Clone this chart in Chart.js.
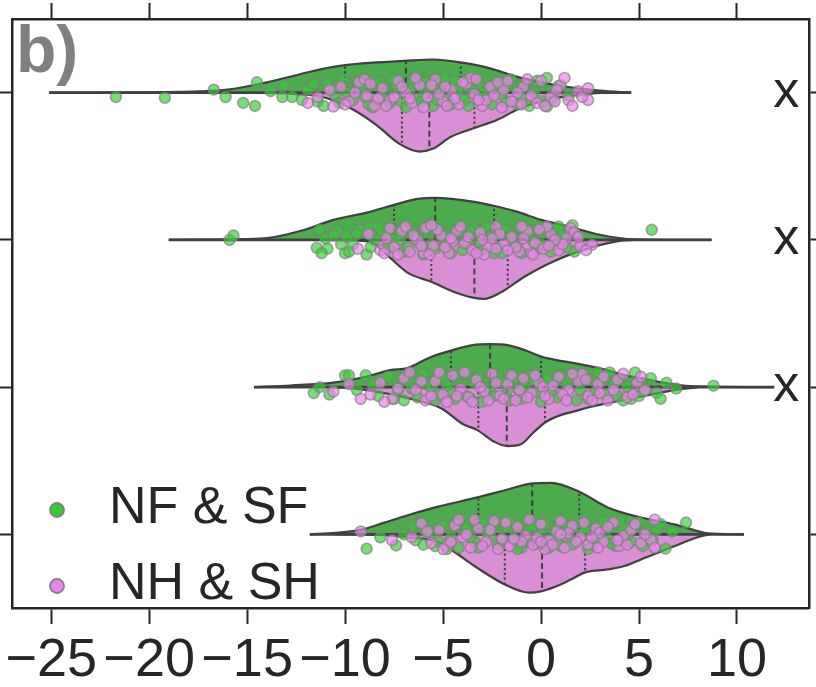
<!DOCTYPE html>
<html>
<head>
<meta charset="utf-8">
<script src="https://cdn.jsdelivr.net/npm/chart.js@4.4.0/dist/chart.umd.min.js"></script>
<style>
  html, body { margin: 0; padding: 0; background: #ffffff; }
  #wrap { width: 816px; height: 687px; position: relative; }
</style>
</head>
<body>
<div id="wrap"><canvas id="c" width="816" height="687"></canvas></div>
<script>
// ---- axis ticks and labels ----
const xTicks = [-25, -20, -15, -10, -5, 0, 5, 10];
const xTickLabels = ['\u221225', '\u221220', '\u221215', '\u221210', '\u22125', '0', '5', '10'];
const rows = [0, 1, 2, 3];
const rowMarks = ['x', 'x', 'x', ''];
const panelTag = 'b)';
const seriesNames = ['NF & SF', 'NH & SH'];

// ---- violin outlines: [value, half-width in row units] ----
const nfShape1 = [[-25.1,0],[-21,0.002],[-17.5,0.008],[-16,0.02],[-14,0.07],[-12.3,0.125],[-10.6,0.175],[-9,0.2],[-7,0.215],[-5.5,0.225],[-4.1,0.205],[-2.6,0.165],[-1.3,0.11],[0,0.07],[1.3,0.04],[3,0.013],[4.6,0]];
const nfShape2 = [[-19,0],[-16,0.004],[-14,0.012],[-12.3,0.06],[-10.6,0.136],[-8.9,0.185],[-7.5,0.238],[-6.2,0.28],[-5.4,0.285],[-3.4,0.258],[-2.3,0.228],[-1.2,0.19],[0,0.136],[1.3,0.095],[3,0.035],[4.75,0.004],[8.7,0]];
const nfShape3 = [[-14.65,0],[-12.8,0.011],[-10.6,0.031],[-8.9,0.072],[-7.7,0.115],[-6.8,0.13],[-5.7,0.2],[-4.6,0.248],[-3.5,0.285],[-2.6,0.292],[-1.7,0.285],[-0.8,0.25],[0,0.208],[0.9,0.18],[1.7,0.163],[3.4,0.115],[4.15,0.085],[5.1,0.061],[6.4,0.027],[7.6,0.007],[11.9,0]];
const nfShape4 = [[-11.8,0],[-10.5,0.01],[-9.1,0.034],[-8,0.08],[-6.8,0.13],[-5.2,0.19],[-3.25,0.251],[-1.7,0.305],[-0.45,0.346],[0.5,0.35],[1.95,0.29],[3.4,0.183],[5.1,0.115],[6.8,0.068],[8.0,0.022],[8.5,0.007],[10.35,0]];

const nhShape1 = [[-14.5,0],[-12.5,0.01],[-11,0.035],[-9.6,0.115],[-8.4,0.22],[-7.2,0.35],[-6.2,0.4],[-5.5,0.38],[-4.6,0.3],[-3.4,0.24],[-2.2,0.183],[-1.2,0.115],[0.3,0.048],[2,0.014],[3.2,0]];
const nhShape2 = [[-10.5,0],[-9.5,0.004],[-8.7,0.014],[-7.8,0.11],[-6.8,0.224],[-5.6,0.285],[-4.5,0.35],[-3.4,0.394],[-2.9,0.4],[-2.1,0.36],[-0.85,0.25],[0.8,0.136],[2.5,0.054],[4.0,0.007],[4.8,0]];
const nhShape3 = [[-11,0],[-9.5,0.01],[-8.5,0.03],[-6.8,0.075],[-5.1,0.143],[-4.0,0.25],[-3.25,0.292],[-2.4,0.37],[-1.7,0.4],[-1.05,0.39],[-0.4,0.31],[0.2,0.24],[1.0,0.19],[1.7,0.165],[2.5,0.135],[3.4,0.109],[5.1,0.064],[6.8,0.02],[8,0]];
const nhShape4 = [[-10.5,0],[-8,0.005],[-6.8,0.02],[-5.2,0.055],[-4.3,0.13],[-3.4,0.215],[-1.85,0.34],[-0.6,0.396],[0.05,0.385],[1.0,0.34],[1.7,0.294],[2.25,0.258],[3.4,0.238],[4.25,0.215],[5.1,0.17],[6.8,0.08],[8.0,0.02],[8.6,0]];

// ---- quartiles [Q1, median, Q3] per row ----
const nfQuartiles = [[-10.0,-6.9,-4.1],[-7.5,-5.4,-2.4],[-4.6,-2.6,0.0],[-3.2,-0.45,1.95]];
const nhQuartiles = [[-7.1,-5.7,-3.4],[-5.6,-3.4,-1.7],[-3.2,-1.75,0.2],[-1.85,0.05,2.25]];

// ---- individual observations: [value, strip offset] ----
const nfPts1 = [[-21.7,0.03],[-19.2,0.035],[-16.7,-0.02],[-16.1,0.03],[-15.2,0.07],[-14.6,0.09],[-14.5,-0.07],[-13.8,-0.01],[-13.1,-0.05],[-13.2,0.03],[-12.7,0.03],[-11.9,-0.02],[-11.4,0.06],[-10.9,-0.06],[-10.5,0.02],[-10.1,-0.08],[-9.6,0.05],[-9.2,-0.03],[-8.8,0.08],[-8.4,-0.05],[-7.9,0.01],[-7.5,-0.09],[-7.1,0.06],[-6.7,-0.02],[-6.3,0.04],[-5.9,-0.07],[-5.5,0.09],[-5.2,-0.01],[-4.8,0.05],[-4.4,-0.08],[-4.0,0.02],[-3.7,0.09],[-3.2,-0.06],[-2.7,0.03],[-2.3,-0.04],[-1.8,0.06],[-1.55,-0.09],[-1.2,0.08],[-0.6,0.09],[-0.35,0.0],[0.3,-0.1],[0.3,0.095],[0.9,-0.045],[1.4,0.02],[-9.9,0.0],[-8.1,0.04],[-6.0,0.02],[-3.5,-0.02],[-2.0,0.01],[-0.9,-0.05],[0.6,0.05],
  [-12.2,0.05],[-11.6,-0.06],[-11.1,0.09],[-10.7,-0.02],[-10.3,0.07],[-9.4,-0.08],[-9.0,0.03],[-8.6,0.1],[-8.2,-0.07],[-7.7,0.07],[-7.3,-0.03],[-6.9,0.1],[-6.5,-0.08],[-6.1,0.06],[-5.7,-0.03],[-5.3,0.05],[-4.9,-0.09],[-4.6,0.08],[-4.2,-0.03],[-3.9,0.05],[-3.0,0.0],[-2.5,0.08],[-1.0,0.03],[-0.2,-0.08],[0.1,0.06]];
const nfPts2 = [[-15.9,0.0],[-15.7,-0.03],[-11.45,0.054],[-11.3,-0.068],[-10.9,0.06],[-10.4,-0.06],[-10.0,0.09],[-9.9,-0.02],[-9.25,-0.07],[-8.9,0.1],[-8.75,-0.08],[-8.5,0.0],[-8.1,-0.05],[-7.8,0.05],[-7.4,-0.03],[-7.0,0.08],[-6.6,-0.06],[-6.2,0.02],[-5.8,-0.09],[-5.4,0.06],[-5.0,-0.01],[-4.6,0.09],[-4.2,-0.05],[-3.8,0.03],[-3.4,-0.08],[-3.0,0.07],[-2.6,-0.02],[-2.2,0.05],[-1.8,-0.06],[-1.4,0.02],[-1.0,0.09],[-0.6,-0.04],[-0.2,0.06],[0.3,-0.07],[0.7,0.03],[1.1,-0.03],[1.6,-0.1],[1.7,0.08],[5.65,-0.068],[-9.6,0.03],[-7.2,0.0],[-6.0,0.1],[-4.9,0.04],[-3.1,-0.04],[-2.0,0.09],[-0.4,0.01],[0.5,0.08],[-11.0,-0.01],
  [-11.2,0.09],[-10.6,-0.03],[-10.2,0.03],[-9.8,0.08],[-9.4,-0.04],[-8.7,0.05],[-8.3,-0.09],[-7.6,0.02],[-7.1,-0.08],[-6.8,0.05],[-6.4,-0.02],[-5.6,0.03],[-5.2,-0.07],[-4.4,0.0],[-4.0,0.07],[-3.6,-0.06],[-3.2,0.02],[-2.8,-0.09],[-2.4,0.09],[-1.6,-0.02],[-1.2,0.05],[-0.8,-0.08],[0.0,0.03],[0.9,-0.09],[1.3,0.05]];
const nfPts3 = [[-11.6,0.04],[-11.3,0.0],[-10.0,-0.08],[-9.8,-0.08],[-8.95,-0.08],[-8.3,0.06],[-7.8,-0.07],[-7.3,0.02],[-6.8,-0.04],[-6.3,0.07],[-5.9,-0.02],[-5.4,0.09],[-5.0,-0.06],[-4.6,0.03],[-4.2,-0.09],[-3.8,0.06],[-3.4,-0.03],[-3.0,0.1],[-2.6,0.0],[-2.2,-0.07],[-1.8,0.05],[-1.4,-0.04],[-1.0,0.08],[-0.6,-0.08],[-0.2,0.03],[0.3,-0.05],[0.8,0.07],[1.3,-0.02],[1.8,0.09],[2.2,-0.07],[2.7,0.04],[3.1,-0.04],[3.5,-0.1],[3.9,0.06],[4.4,0.0],[4.8,-0.1],[5.3,0.02],[5.9,0.04],[6.4,-0.03],[8.8,-0.01],[-7.0,0.09],[-5.6,0.0],[-3.6,0.08],[-2.4,0.06],[-1.2,0.01],[0.0,0.1],[1.0,-0.08],[2.0,0.02],[3.3,0.05],[4.6,0.08],
  [-10.8,0.05],[-9.4,0.02],[-8.6,-0.02],[-7.5,0.08],[-6.6,0.01],[-6.0,-0.09],[-5.2,0.05],[-4.8,-0.01],[-4.4,0.08],[-3.2,-0.07],[-2.8,0.04],[-2.0,-0.03],[-1.6,0.09],[-0.8,0.0],[-0.4,-0.05],[0.5,0.03],[1.5,-0.06],[2.4,0.08],[2.9,-0.1],[3.7,-0.02],[4.2,0.09],[5.0,0.06],[5.6,-0.06],[6.1,0.08],[6.9,0.01]];
const nfPts4 = [[-8.9,0.097],[-7.4,0.075],[-6.55,-0.056],[-6.4,0.04],[-5.9,-0.02],[-5.4,0.08],[-5.0,-0.06],[-4.6,0.02],[-4.2,0.09],[-3.8,-0.04],[-3.4,0.05],[-3.0,-0.08],[-2.6,0.01],[-2.2,0.07],[-1.8,-0.05],[-1.4,0.03],[-1.0,0.09],[-0.6,-0.03],[-0.2,0.06],[0.2,-0.07],[0.6,0.02],[1.0,0.08],[1.4,-0.05],[1.8,0.04],[2.2,-0.02],[2.6,0.07],[3.0,-0.06],[3.4,0.03],[3.8,0.08],[4.2,-0.04],[4.6,0.05],[5.0,-0.08],[5.4,0.02],[5.9,-0.03],[6.35,0.097],[6.7,-0.02],[7.4,-0.08],[-4.8,0.1],[-2.8,-0.02],[-1.2,0.1],[0.0,0.0],[1.2,0.01],[2.4,0.1],[4.0,-0.09],[-6.0,0.07],
  [-8.2,0.02],[-7.0,0.0],[-6.2,-0.08],[-5.6,-0.01],[-5.2,0.05],[-4.4,-0.08],[-3.6,0.02],[-3.2,0.09],[-2.4,-0.07],[-2.0,0.04],[-1.6,-0.09],[-0.8,0.05],[-0.4,-0.06],[0.4,0.09],[0.8,-0.04],[1.6,0.07],[2.0,-0.08],[2.8,0.03],[3.2,-0.09],[3.6,0.06],[4.4,0.01],[4.8,-0.05],[5.2,0.08],[5.7,0.04],[6.1,-0.07]];

const nhPts1 = [[-11.4,0.03],[-10.6,0.095],[-10.2,-0.04],[-9.8,0.06],[-9.3,-0.07],[-8.9,0.02],[-8.5,0.09],[-8.1,-0.03],[-7.7,0.05],[-7.3,-0.08],[-6.9,0.0],[-6.6,0.07],[-6.2,-0.05],[-5.8,0.03],[-5.4,-0.09],[-5.0,0.06],[-4.6,-0.02],[-4.2,0.08],[-3.8,-0.06],[-3.4,0.01],[-3.0,0.09],[-2.6,-0.04],[-2.0,0.1],[-1.9,-0.02],[-1.5,0.06],[-0.9,-0.04],[-0.5,0.02],[0.0,-0.08],[0.5,0.03],[1.0,-0.05],[1.4,0.05],[1.9,-0.01],[2.4,-0.03],[2.4,0.05],[-9.0,-0.09],[-7.5,0.03],[-6.4,-0.1],[-5.2,0.01],[-4.4,0.04],[-3.6,-0.1],[-2.8,0.05],[-2.2,-0.07],[-1.2,0.0],[-0.2,0.07],[0.8,-0.02],
  [-10.8,-0.02],[-10.0,0.08],[-9.5,0.0],[-8.7,-0.06],[-8.3,0.04],[-7.9,0.09],[-7.1,-0.04],[-6.7,0.04],[-6.0,0.1],[-5.6,-0.05],[-4.8,0.09],[-4.0,-0.07],[-3.2,0.05],[-2.4,0.02],[-1.7,-0.08],[-1.0,0.08],[-0.7,-0.09],[0.2,0.09],[0.7,0.06],[1.2,-0.1],[1.6,0.09],[2.1,0.03],[-11.9,0.07],[-4.9,-0.04],[-3.3,-0.09]];
const nhPts2 = [[-9.35,0.06],[-7.9,-0.01],[-7.5,0.05],[-7.1,-0.06],[-6.7,0.08],[-6.3,0.0],[-5.9,-0.08],[-5.5,0.04],[-5.1,-0.03],[-4.7,0.09],[-4.3,-0.06],[-3.9,0.02],[-3.5,0.07],[-3.1,-0.05],[-2.7,0.05],[-2.3,-0.09],[-1.9,0.03],[-1.5,-0.02],[-1.1,0.08],[-0.7,-0.06],[-0.3,0.02],[0.1,0.06],[0.5,-0.04],[0.9,0.07],[1.3,-0.01],[1.5,-0.08],[2.0,0.045],[2.6,0.034],[-6.9,-0.09],[-6.0,0.09],[-5.3,-0.07],[-4.5,0.01],[-3.7,-0.02],[-2.9,0.1],[-2.1,-0.04],[-1.3,0.05],[-0.5,0.09],[0.3,-0.09],[1.1,0.03],[-8.2,0.07],
  [-8.8,-0.04],[-8.0,0.09],[-7.7,-0.08],[-7.3,0.1],[-6.5,-0.03],[-6.1,0.04],[-5.7,0.1],[-4.9,0.05],[-4.1,-0.09],[-3.3,0.09],[-2.5,-0.01],[-1.7,0.07],[-0.9,-0.01],[-0.1,-0.07],[0.7,0.0],[1.7,-0.05],[2.3,0.07],[-4.6,-0.01],[-3.0,0.0],[-1.0,-0.09],[0.4,0.04],[1.9,-0.02],[-5.6,-0.1],[-2.3,0.06],[-0.4,0.1]];
const nhPts3 = [[-10.6,0.03],[-8.7,0.05],[-8.2,-0.03],[-7.6,0.08],[-7.0,-0.06],[-6.4,0.02],[-5.9,0.09],[-5.4,-0.04],[-5.0,0.05],[-4.5,-0.08],[-4.1,0.01],[-3.7,0.07],[-3.3,-0.05],[-2.9,0.03],[-2.5,-0.09],[-2.1,0.06],[-1.7,-0.02],[-1.3,0.09],[-0.9,-0.06],[-0.5,0.04],[-0.1,-0.03],[0.4,0.08],[0.9,-0.07],[1.4,0.02],[1.9,-0.04],[2.4,0.06],[2.9,-0.02],[3.4,0.09],[3.9,-0.05],[4.4,0.07],[4.9,-0.03],[5.3,0.02],[-6.7,-0.1],[-4.8,0.1],[-3.9,-0.1],[-2.7,0.09],[-1.5,-0.08],[-0.7,0.07],[0.1,0.0],[1.1,0.05],[2.1,-0.09],[3.0,0.04],
  [-9.8,-0.02],[-9.2,0.08],[-7.3,0.01],[-6.1,-0.04],[-5.6,0.06],[-4.3,0.06],[-3.5,0.1],[-3.1,0.0],[-2.3,-0.03],[-1.9,0.08],[-1.1,0.02],[-0.3,-0.08],[0.6,-0.01],[1.6,-0.09],[2.6,0.09],[3.2,-0.07],[3.7,0.02],[4.2,-0.09],[4.7,0.05],[5.1,-0.07],[-8.0,0.1],[-5.2,-0.1],[0.2,0.06],[1.3,0.09],[2.3,-0.05]];
const nhPts4 = [[-9.2,-0.02],[-6.1,-0.075],[-5.6,0.06],[-5.2,-0.03],[-4.8,0.08],[-4.4,-0.06],[-4.0,0.02],[-3.6,0.09],[-3.2,-0.04],[-2.8,0.05],[-2.4,-0.09],[-2.0,0.03],[-1.6,0.08],[-1.2,-0.05],[-0.8,0.01],[-0.4,0.07],[0.0,-0.07],[0.4,0.04],[0.8,-0.02],[1.2,0.09],[1.6,-0.06],[2.0,0.02],[2.4,0.07],[2.8,-0.04],[3.2,0.05],[3.7,-0.08],[4.2,0.01],[4.6,-0.03],[5.1,0.06],[5.6,0.035],[5.8,-0.1],[5.8,0.09],[-5.0,0.1],[-3.4,-0.1],[-2.2,0.1],[-1.0,0.05],[0.2,0.1],[1.0,-0.09],[3.0,-0.01],[4.0,0.08],
  [-7.6,0.04],[-6.6,0.02],[-5.8,-0.02],[-4.6,0.05],[-4.2,-0.1],[-3.8,0.0],[-3.0,0.08],[-2.6,-0.03],[-1.8,-0.08],[-1.4,0.03],[-0.6,-0.1],[-0.2,0.02],[0.6,0.07],[1.4,-0.01],[1.8,0.05],[2.2,-0.08],[2.6,0.02],[3.4,-0.05],[3.9,0.04],[4.4,0.07],[4.8,-0.07],[5.3,0.0],[0.0,0.05],[1.0,0.0],[2.9,0.09]];

// ---- styling ----
const FONT = '"Liberation Sans", Arial, Helvetica, sans-serif';
const INK = '#262626';
const STROKE = '#404040';
const NF_FILL = '#4cab4c';
const NH_FILL = '#d98fd6';
const NF_DOT = 'rgba(50,205,50,0.66)';
const NH_DOT = 'rgba(238,130,238,0.68)';
const DOT_EDGE = 'rgba(128,128,128,0.66)';
const NF_KEY = '#32cd32';
const NH_KEY = '#ee82ee';

const nfShapes = [nfShape1, nfShape2, nfShape3, nfShape4];
const nhShapes = [nhShape1, nhShape2, nhShape3, nhShape4];
const nfPts = [nfPts1, nfPts2, nfPts3, nfPts4];
const nhPts = [nhPts1, nhPts2, nhPts3, nhPts4];

// half-width of an outline at a given value (linear between outline points)
function widthAt(shape, v) {
  for (let i = 1; i < shape.length; i++) {
    const [x0, h0] = shape[i - 1], [x1, h1] = shape[i];
    if (v >= x0 && v <= x1) return h0 + (h1 - h0) * (v - x0) / (x1 - x0);
  }
  return 0;
}

const datasets = [];
rows.forEach((r, i) => {
  const up = nfShapes[i], dn = nhShapes[i];
  // upper half (NF & SF)
  datasets.push({
    data: up.map(([v, h]) => ({ x: v, y: r - h })),
    showLine: true, fill: { value: r }, backgroundColor: NF_FILL,
    borderColor: STROKE, borderWidth: 2.2, pointRadius: 0,
    cubicInterpolationMode: 'monotone', order: 5
  });
  // lower half (NH & SH)
  datasets.push({
    data: dn.map(([v, h]) => ({ x: v, y: r + h })),
    showLine: true, fill: { value: r }, backgroundColor: NH_FILL,
    borderColor: STROKE, borderWidth: 2.2, pointRadius: 0,
    cubicInterpolationMode: 'monotone', order: 5
  });
  // centre line of the split violin
  const lo = Math.min(up[0][0], dn[0][0]);
  const hi = Math.max(up[up.length - 1][0], dn[dn.length - 1][0]);
  datasets.push({
    data: [{ x: lo, y: r }, { x: hi, y: r }],
    showLine: true, fill: false, borderColor: STROKE, borderWidth: 2.6,
    pointRadius: 0, order: 4
  });
  // quartile lines
  [[up, nfQuartiles[i], -1], [dn, nhQuartiles[i], 1]].forEach(([shape, qs, dir]) => {
    qs.forEach((q, k) => {
      datasets.push({
        data: [{ x: q, y: r }, { x: q, y: r + dir * widthAt(shape, q) }],
        showLine: true, fill: false, borderColor: STROKE, borderWidth: 2,
        borderDash: k === 1 ? [6, 3.5] : [2.2, 2.6], pointRadius: 0, order: 3
      });
    });
  });
});

// strip of observations
datasets.push({
  label: seriesNames[0],
  data: rows.flatMap((r, i) => nfPts[i].map(([v, j]) => ({ x: v, y: r + j }))),
  showLine: false, pointRadius: 5.4, pointBorderWidth: 1.7,
  pointBackgroundColor: NF_DOT, pointBorderColor: DOT_EDGE, order: 2
});
datasets.push({
  label: seriesNames[1],
  data: rows.flatMap((r, i) => nhPts[i].map(([v, j]) => ({ x: v, y: r + j }))),
  showLine: false, pointRadius: 5.4, pointBorderWidth: 1.7,
  pointBackgroundColor: NH_DOT, pointBorderColor: DOT_EDGE, order: 1
});

// row markers, panel tag and legend
const annotations = {
  id: 'annotations',
  afterDraw(chart) {
    const { ctx, chartArea: a, scales: { x, y } } = chart;
    ctx.save();
    ctx.fillStyle = INK;
    ctx.font = '52px ' + FONT;
    ctx.textAlign = 'center';
    ctx.textBaseline = 'alphabetic';
    rows.forEach((r, i) => {
      if (rowMarks[i]) ctx.fillText(rowMarks[i], x.getPixelForValue(12.52), y.getPixelForValue(r) + 14);
    });

    ctx.fillStyle = '#808080';
    ctx.font = 'bold 66px ' + FONT;
    ctx.textAlign = 'left';
    ctx.fillText(panelTag, a.left + 4, a.top + 53);

    const keys = [[seriesNames[0], NF_KEY, 98], [seriesNames[1], NH_KEY, 22]];
    keys.forEach(([name, col, dy]) => {
      const cy = a.bottom - dy;
      ctx.beginPath();
      ctx.arc(a.left + 45, cy, 7, 0, Math.PI * 2);
      ctx.fillStyle = col;
      ctx.fill();
      ctx.lineWidth = 1.8;
      ctx.strokeStyle = '#808080';
      ctx.stroke();
      ctx.fillStyle = INK;
      ctx.font = '52px ' + FONT;
      ctx.textAlign = 'left';
      ctx.textBaseline = 'alphabetic';
      ctx.fillText(name, a.left + 97, cy + 13);
    });
    ctx.restore();
  }
};

const tickGrid = (len) => ({
  display: true, drawOnChartArea: false, drawTicks: true,
  tickLength: len, tickWidth: 2, tickColor: INK
});
const frameBorder = { display: true, color: INK, width: 2.5 };

new Chart(document.getElementById('c'), {
  type: 'scatter',
  data: { datasets },
  plugins: [annotations],
  options: {
    responsive: false,
    devicePixelRatio: 1,
    animation: false,
    events: [],
    layout: { padding: 0 },
    plugins: { legend: { display: false }, tooltip: { enabled: false } },
    scales: {
      x: {
        type: 'linear', position: 'bottom', min: -27.0, max: 13.67,
        afterBuildTicks: s => { s.ticks = xTicks.map(v => ({ value: v })); },
        ticks: {
          autoSkip: false, maxRotation: 0, padding: 5, color: INK,
          font: { family: FONT, size: 54 },
          callback: (v, idx) => xTickLabels[idx]
        },
        grid: tickGrid(16), border: frameBorder,
        afterFit: s => { s.height = 79; s.paddingLeft = 0; s.paddingRight = 0; }
      },
      xTop: {
        type: 'linear', position: 'top', min: -27.0, max: 13.67,
        afterBuildTicks: s => { s.ticks = xTicks.map(v => ({ value: v })); },
        ticks: { display: false },
        grid: tickGrid(16), border: frameBorder,
        afterFit: s => { s.height = 19; s.paddingLeft = 0; s.paddingRight = 0; }
      },
      y: {
        type: 'linear', position: 'left', reverse: true, min: -0.5, max: 3.5,
        afterBuildTicks: s => { s.ticks = rows.map(v => ({ value: v })); },
        ticks: { display: false },
        grid: tickGrid(12), border: frameBorder,
        afterFit: s => { s.width = 12; s.paddingTop = 0; s.paddingBottom = 0; }
      },
      yRight: {
        type: 'linear', position: 'right', reverse: true, min: -0.5, max: 3.5,
        afterBuildTicks: s => { s.ticks = rows.map(v => ({ value: v })); },
        ticks: { display: false },
        grid: tickGrid(8), border: frameBorder,
        afterFit: s => { s.width = 6; s.paddingTop = 0; s.paddingBottom = 0; }
      }
    }
  }
});
</script>
</body>
</html>
